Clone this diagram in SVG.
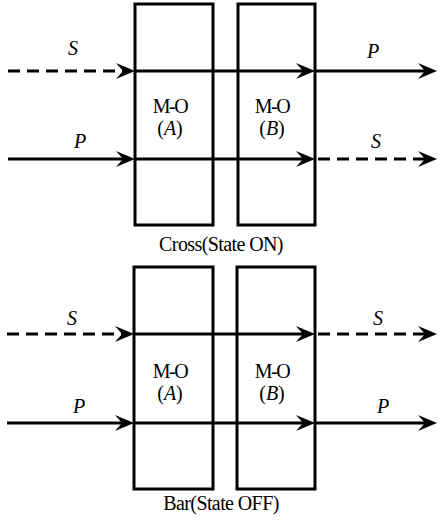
<svg xmlns="http://www.w3.org/2000/svg" width="440" height="520" viewBox="0 0 440 520">
<style>
.box{fill:none;stroke:#000;stroke-width:3}
.ln{stroke:#000;stroke-width:3;fill:none;marker-end:url(#ah)}
.dash{stroke-dasharray:12 7}
.t{font-family:'Liberation Serif','DejaVu Serif','Noto Serif',Times,serif;font-size:20px;fill:#000;text-anchor:middle}
.i{font-style:italic}
.mo{letter-spacing:-1.5px}
.cap{letter-spacing:-0.6px}
</style>
<defs>
<marker id="ah" viewBox="-20 -9 21 18" refX="-6" refY="0" markerWidth="21" markerHeight="18" markerUnits="userSpaceOnUse" orient="auto">
<path d="M0,0 L-19,-8 L-12,0 L-19,8 Z" fill="#000"/>
</marker>
</defs>
<rect width="440" height="520" fill="#fff"/>
<g id="connectors">
<line class="ln dash" x1="8" y1="71" x2="129" y2="71"/>
<line class="ln" x1="135" y1="71" x2="309" y2="71"/>
<line class="ln" x1="315" y1="71" x2="431" y2="71"/>
<line class="ln" x1="8" y1="159" x2="129" y2="159"/>
<line class="ln" x1="135" y1="159" x2="309" y2="159"/>
<line class="ln dash" x1="318" y1="159" x2="431" y2="159"/>
<line class="ln dash" x1="7" y1="334" x2="128" y2="334"/>
<line class="ln" x1="134" y1="334" x2="309" y2="334"/>
<line class="ln dash" x1="318" y1="334" x2="431" y2="334"/>
<line class="ln" x1="7" y1="423" x2="128" y2="423"/>
<line class="ln" x1="134" y1="423" x2="309" y2="423"/>
<line class="ln" x1="315" y1="423" x2="431" y2="423"/>
</g>
<g id="moA-top">
<rect class="box" x="135" y="4" width="78" height="221"/>
<text class="t mo" x="170" y="113">M-O</text>
<text class="t" x="170" y="135">(<tspan class="i">A</tspan>)</text>
</g>
<g id="moB-top">
<rect class="box" x="238" y="4" width="77" height="221"/>
<text class="t mo" x="272" y="113">M-O</text>
<text class="t" x="272" y="135">(<tspan class="i">B</tspan>)</text>
</g>
<g id="moA-bottom">
<rect class="box" x="134" y="267" width="79" height="222"/>
<text class="t mo" x="170" y="378">M-O</text>
<text class="t" x="170" y="400">(<tspan class="i">A</tspan>)</text>
</g>
<g id="moB-bottom">
<rect class="box" x="237" y="267" width="78" height="222"/>
<text class="t mo" x="272" y="378">M-O</text>
<text class="t" x="272" y="400">(<tspan class="i">B</tspan>)</text>
</g>
<g id="labels">
<text class="t i" x="73" y="55">S</text>
<text class="t i" x="80" y="148">P</text>
<text class="t i" x="373" y="58">P</text>
<text class="t i" x="376" y="148">S</text>
<text class="t cap" x="221" y="251">Cross(State ON)</text>
<text class="t i" x="72" y="325">S</text>
<text class="t i" x="79" y="413">P</text>
<text class="t i" x="378" y="325">S</text>
<text class="t i" x="383" y="413">P</text>
<text class="t cap" x="221" y="510">Bar(State OFF)</text>
</g>
</svg>
